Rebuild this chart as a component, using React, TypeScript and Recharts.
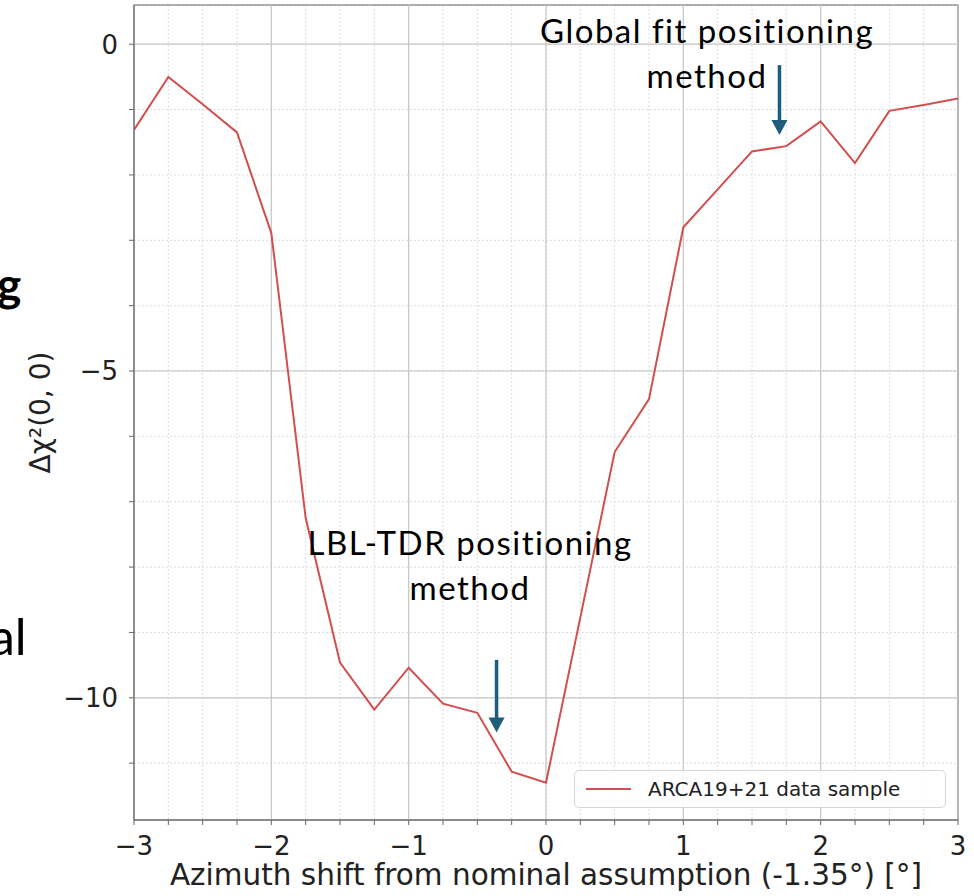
import React from "react";
import { LineChart, Line, XAxis, YAxis, CartesianGrid, ReferenceLine, ReferenceArea, Legend } from "recharts";

// azimuth shift samples, 0.25° apart
const shifts = [-3, -2.75, -2.5, -2.25, -2, -1.75, -1.5, -1.25, -1, -0.75, -0.5, -0.25, 0, 0.25, 0.5, 0.75, 1, 1.25, 1.5, 1.75, 2, 2.25, 2.5, 2.75, 3];
const deltaChi2 = [-1.31, -0.5, -0.92, -1.35, -2.89, -7.25, -9.46, -10.18, -9.54, -10.09, -10.23, -11.13, -11.3, -8.77, -6.24, -5.43, -2.8, -2.22, -1.64, -1.56, -1.18, -1.82, -1.02, -0.93, -0.83];

const xTicks = [-3, -2.75, -2.5, -2.25, -2, -1.75, -1.5, -1.25, -1, -0.75, -0.5, -0.25, 0, 0.25, 0.5, 0.75, 1, 1.25, 1.5, 1.75, 2, 2.25, 2.5, 2.75, 3];
const xMajor = [-3, -2, -1, 0, 1, 2, 3];
const yTicks = [-11, -10, -9, -8, -7, -6, -5, -4, -3, -2, -1, 0];
const yMajor = [-10, -5, 0];

const xDomain = [-3, 3];
const yDomain = [-11.87, 0.6];

// annotation arrows: [x, yStart, yTip]
const globalFitArrow = [1.7, -0.32, -1.39];
const lblArrow = [-0.36, -9.42, -10.53];

const seriesName = "ARCA19+21 data sample";
const lineColor = "#d24f4f";
const arrowColor = "#1f5d7d";
const tickFont = "DejaVu Sans, sans-serif";

const data = shifts.map((x, i) => ({ x, chi: deltaChi2[i] }));

const fmt = (v: number) => (v < 0 ? "\u2212" + Math.abs(v) : String(v));

function XTick(props: any) {
  const { x, y, payload } = props;
  if (!Number.isInteger(payload.value)) return null;
  return (
    <text x={x} y={y} dy={28} textAnchor="middle" fontSize={26} fontFamily={tickFont} fill="#222">
      {fmt(payload.value)}
    </text>
  );
}

function YTick(props: any) {
  const { x, y, payload } = props;
  if (payload.value % 5 !== 0) return null;
  return (
    <text x={x} y={y} dy={9.5} textAnchor="end" fontSize={26} fontFamily={tickFont} fill="#222">
      {fmt(payload.value)}
    </text>
  );
}

function ArrowShape(props: any) {
  const { x1, y1, x2, y2 } = props;
  const head = 15;
  return (
    <g>
      <line x1={x1} y1={y1} x2={x2} y2={y2 - head + 2} stroke={arrowColor} strokeWidth={3.5} />
      <polygon points={`${x2 - 8},${y2 - head} ${x2 + 8},${y2 - head} ${x2},${y2}`} fill={arrowColor} />
    </g>
  );
}

function LegendBox() {
  return (
    <div
      style={{
        width: 372,
        height: 38,
        border: "1px solid #d6d6d6",
        borderRadius: 5,
        background: "rgba(255,255,255,0.85)",
        display: "flex",
        alignItems: "center",
        boxSizing: "border-box",
      }}
    >
      <div style={{ width: 45, height: 2, background: lineColor, marginLeft: 11, marginRight: 17 }} />
      <span style={{ fontFamily: tickFont, fontSize: 20, color: "#222" }}>{seriesName}</span>
    </div>
  );
}

const noteStyle: React.CSSProperties = {
  position: "absolute",
  fontFamily: "Lato, sans-serif",
  fontSize: 33,
  letterSpacing: 1.5,
  color: "#000",
  textAlign: "center",
  lineHeight: "45px",
  whiteSpace: "nowrap",
};

export default function App() {
  return (
    <div style={{ position: "absolute", left: 0, top: 0, width: 974, height: 896, background: "#fff", overflow: "hidden" }}>
      <LineChart width={974} height={896} data={data} margin={{ top: 5, right: 16, bottom: 0, left: 0 }}>
        <CartesianGrid stroke="#dcdcdc" strokeDasharray="2 2" />
        {xMajor.map((v) => (
          <ReferenceLine key={"gx" + v} x={v} stroke="#c6c6c6" strokeWidth={1.2} />
        ))}
        {yMajor.map((v) => (
          <ReferenceLine key={"gy" + v} y={v} stroke="#c6c6c6" strokeWidth={1.2} />
        ))}
        <ReferenceArea x1={xDomain[0]} x2={xDomain[1]} y1={yDomain[0]} y2={yDomain[1]} fill="none" stroke="#666" strokeWidth={1.2} />
        <XAxis
          dataKey="x"
          type="number"
          domain={xDomain}
          ticks={xTicks}
          interval={0}
          allowDataOverflow
          tick={<XTick />}
          tickSize={5}
          height={76}
          stroke="#666"
          label={{ value: "Azimuth shift from nominal assumption (-1.35°) [°]", position: "insideBottom", offset: 11, fontSize: 29.5, fontFamily: tickFont, fill: "#222", style: { fontSize: 29.5 } }}
        />
        <YAxis
          type="number"
          domain={yDomain}
          ticks={yTicks}
          interval={0}
          allowDataOverflow
          tick={<YTick />}
          tickSize={5}
          tickMargin={11}
          width={134}
          stroke="#666"
          label={{ value: "Δχ²(0, 0)", angle: -90, position: "insideLeft", offset: 40, fontSize: 28, fontFamily: tickFont, fill: "#222", style: { textAnchor: "middle", fontSize: 28 } }}
        />
        <ReferenceLine
          segment={[{ x: globalFitArrow[0], y: globalFitArrow[1] }, { x: globalFitArrow[0], y: globalFitArrow[2] }]}
          shape={<ArrowShape />}
        />
        <ReferenceLine
          segment={[{ x: lblArrow[0], y: lblArrow[1] }, { x: lblArrow[0], y: lblArrow[2] }]}
          shape={<ArrowShape />}
        />
        <Line type="linear" dataKey="chi" name={seriesName} stroke={lineColor} strokeWidth={2} dot={false} isAnimationActive={false} />
        <Legend
          layout="vertical"
          align="center"
          verticalAlign="middle"
          wrapperStyle={{ position: "absolute", left: 574, top: 770, width: 372 }}
          content={() => <LegendBox />}
        />
      </LineChart>
      <div style={{ ...noteStyle, left: 507, top: 8, width: 400 }}>
        Global fit positioning
        <br />
        method
      </div>
      <div style={{ ...noteStyle, left: 270, top: 520, width: 400 }}>
        LBL-TDR positioning
        <br />
        method
      </div>
      <div style={{ position: "absolute", left: -3, top: 256, fontFamily: "Lato, sans-serif", fontWeight: 700, fontSize: 46, color: "#000" }}>g</div>
      <div style={{ position: "absolute", left: -10, top: 606, fontFamily: "Lato, sans-serif", fontSize: 50, color: "#000" }}>al</div>
    </div>
  );
}
